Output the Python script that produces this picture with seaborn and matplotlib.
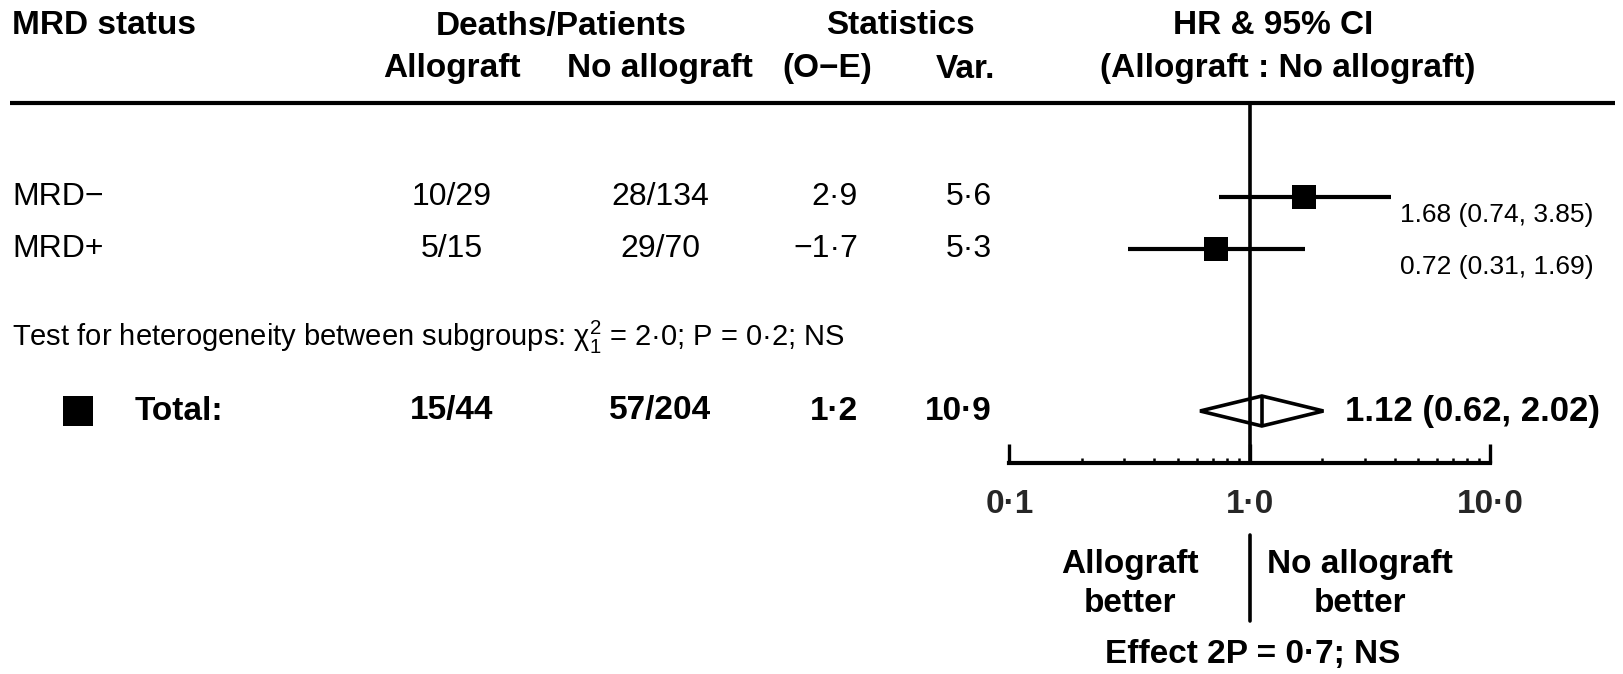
import matplotlib
matplotlib.use("Agg")
import matplotlib.pyplot as plt
import matplotlib.transforms as mtransforms
from matplotlib.patches import Polygon
from matplotlib.ticker import LogLocator, FixedLocator, FixedFormatter, NullFormatter
import seaborn as sns

# ---- data -------------------------------------------------------------
groups = ["MRD−", "MRD+"]
deaths_allo = ["10/29", "5/15"]
deaths_noallo = ["28/134", "29/70"]
o_minus_e = [2.9, -1.7]
variance = [5.6, 5.3]
hr = [1.68, 0.72]
ci_low = [0.74, 0.31]
ci_high = [3.85, 1.69]

total_allo = "15/44"
total_noallo = "57/204"
total_oe = 1.2
total_var = 10.9
total_hr = 1.12
total_low = 0.62
total_high = 2.02

x_ticks = [0.1, 1.0, 10.0]
x_ticklabels = ["0·1", "1·0", "10·0"]

heterogeneity = "Test for heterogeneity between subgroups: χ$_1^2$ = 2·0; P = 0·2; NS"
effect_text = "Effect 2P = 0·7; NS"


def dot(v):
    """Lancet-style number: middle dot as decimal point, true minus sign."""
    return f"{v:.1f}".replace(".", "·").replace("-", "−")


def ci_text(h, lo, hi):
    return f"{h:.2f} ({lo:.2f}, {hi:.2f})"


# ---- style ------------------------------------------------------------
sns.set_theme(style="white")
plt.rcParams["font.family"] = ["Liberation Sans", "DejaVu Sans"]
plt.rcParams["mathtext.default"] = "regular"
plt.rcParams["mathtext.fontset"] = "custom"
plt.rcParams["mathtext.rm"] = "Liberation Sans"

W, H = 1624, 674
fig = plt.figure(figsize=(W / 100, H / 100), dpi=100)
fig.patch.set_facecolor("white")

# page layout in pixels
RULE_Y = 103
AXIS_Y = 463
AX_X0, AX_X1 = 1009.5, 1490.5
ROW_Y = [197, 249]
HET_Y = 337
TOTAL_Y = 411
HEAD1_Y, HEAD2_Y = 26, 69
COL_LABEL = 12
COL_ALLO = 452
COL_NOALLO = 660
COL_OE = 858
COL_VAR = 992
COL_HR = 1288

FS_B = 24
FS = 23
FS_SMALL = 19
LW = 2.6

# background layer used for the text table
bg = fig.add_axes([0, 0, 1, 1])
bg.set_xlim(0, W)
bg.set_ylim(H, 0)
bg.axis("off")

# forest panel on a log axis
ax = fig.add_axes([AX_X0 / W, 1 - AXIS_Y / H, (AX_X1 - AX_X0) / W, (AXIS_Y - RULE_Y) / H])
ax.set_xscale("log")
ax.set_xlim(x_ticks[0], x_ticks[-1])
ax.set_ylim(AXIS_Y, RULE_Y)
ax.patch.set_alpha(0)
for side in ["top", "left", "right"]:
    ax.spines[side].set_visible(False)
ax.spines["bottom"].set_linewidth(3.0)
ax.spines["bottom"].set_color("black")
ax.set_yticks([])

ax.xaxis.set_major_locator(FixedLocator(x_ticks))
ax.xaxis.set_major_formatter(FixedFormatter(x_ticklabels))
ax.xaxis.set_minor_locator(LogLocator(base=10, subs=[2, 3, 4, 5, 6, 7, 8, 9]))
ax.xaxis.set_minor_formatter(NullFormatter())
ax.tick_params(axis="x", which="major", bottom=True, direction="in", length=14,
               width=2.4, color="black", pad=19, labelsize=FS_B)
ax.tick_params(axis="x", which="minor", bottom=True, direction="in", length=3.5,
               width=1.8, color="black")
for lab in ax.get_xticklabels():
    lab.set_fontweight("bold")

# line of no effect
ax.axvline(1.0, color="black", lw=LW, zorder=1)

# subgroup CIs and squares
ax.hlines(ROW_Y, ci_low, ci_high, color="black", lw=3.0, zorder=2)
sns.scatterplot(x=hr, y=ROW_Y, marker="s", s=300, color="black",
                linewidth=0, ax=ax, legend=False, zorder=3)

# overall diamond
dh = 15
diamond = Polygon([(total_low, TOTAL_Y), (total_hr, TOTAL_Y - dh),
                   (total_high, TOTAL_Y), (total_hr, TOTAL_Y + dh)],
                  closed=True, facecolor="none", edgecolor="black",
                  lw=2.6, joinstyle="miter", zorder=3)
ax.add_patch(diamond)
ax.vlines(total_hr, TOTAL_Y - dh, TOTAL_Y + dh, color="black", lw=2.6, zorder=3)

# ---- header ------------------------------------------------------------
hb = dict(fontsize=FS_B, fontweight="bold", va="center", color="black")
bg.text(COL_LABEL, HEAD1_Y, "MRD status", ha="left", **hb)
bg.text((COL_ALLO + COL_NOALLO) / 2 + 5, HEAD1_Y, "Deaths/Patients", ha="center", **hb)
bg.text(900, HEAD1_Y, "Statistics", ha="center", **hb)
bg.text(COL_HR - 15, HEAD1_Y, "HR & 95% CI", ha="center", **hb)
bg.text(COL_ALLO, HEAD2_Y, "Allograft", ha="center", **hb)
bg.text(COL_NOALLO, HEAD2_Y, "No allograft", ha="center", **hb)
bg.text(827, HEAD2_Y, "(O−E)", ha="center", **hb)
bg.text(COL_VAR + 3, HEAD2_Y, "Var.", ha="right", **hb)
bg.text(COL_HR, HEAD2_Y, "(Allograft : No allograft)", ha="center", **hb)
bg.plot([10, 1615], [RULE_Y, RULE_Y], color="black", lw=3.0, solid_capstyle="butt")

# ---- subgroup rows ---------------------------------------------------
rn = dict(fontsize=FS, va="center", color="black")
for i, g in enumerate(groups):
    y = ROW_Y[i]
    bg.text(COL_LABEL, y, g, ha="left", **rn)
    bg.text(COL_ALLO, y, deaths_allo[i], ha="center", **rn)
    bg.text(COL_NOALLO, y, deaths_noallo[i], ha="center", **rn)
    bg.text(COL_OE, y, dot(o_minus_e[i]), ha="right", **rn)
    bg.text(COL_VAR, y, dot(variance[i]), ha="right", **rn)
    bg.text(1400, y + 18, ci_text(hr[i], ci_low[i], ci_high[i]), ha="left",
            va="center", fontsize=FS_SMALL, color="black")

bg.text(COL_LABEL, HET_Y, heterogeneity, ha="left", fontsize=21, va="center",
        color="black")

# ---- total row -----------------------------------------------------------
bg.plot([78], [TOTAL_Y], marker="s", ms=22, color="black", mew=0)
bg.text(135, TOTAL_Y, "Total:", ha="left", **hb)
bg.text(COL_ALLO, TOTAL_Y, total_allo, ha="center", **hb)
bg.text(COL_NOALLO, TOTAL_Y, total_noallo, ha="center", **hb)
bg.text(COL_OE, TOTAL_Y, dot(total_oe), ha="right", **hb)
bg.text(COL_VAR, TOTAL_Y, dot(total_var), ha="right", **hb)
bg.text(1345, TOTAL_Y, ci_text(total_hr, total_low, total_high), ha="left",
        fontsize=25, fontweight="bold", va="center", color="black")

# ---- favours labels -------------------------------------------------------
mix = mtransforms.blended_transform_factory(ax.transData, bg.transData)
bg.plot([1.0, 1.0], [535, 621], color="black", lw=LW, transform=mix, clip_on=False)
bg.text(1130, 564, "Allograft", ha="center", **hb)
bg.text(1130, 604, "better", ha="center", **hb)
bg.text(1360, 564, "No allograft", ha="center", **hb)
bg.text(1360, 604, "better", ha="center", **hb)
bg.text(1253, 655, effect_text, ha="center", **hb)

fig.savefig("out.png", dpi=100, facecolor="white")
